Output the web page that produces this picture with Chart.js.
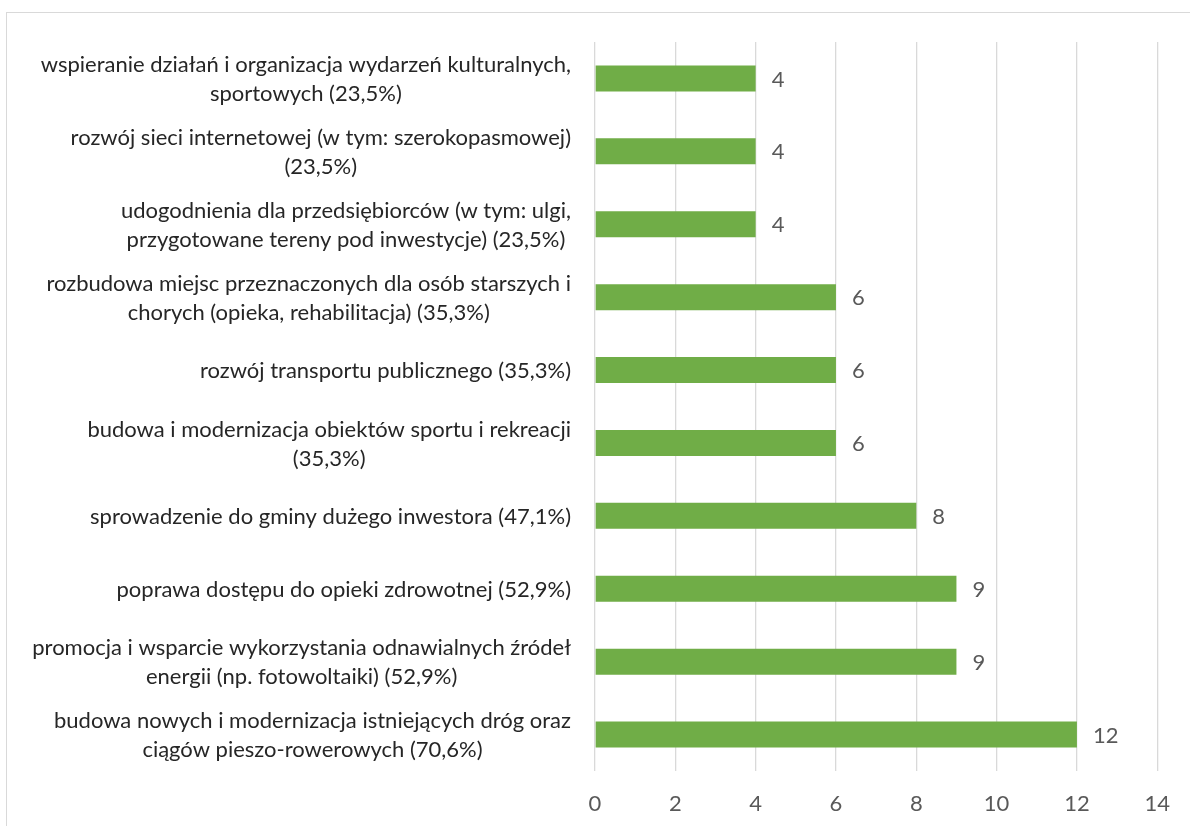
<!DOCTYPE html>
<html>
<head>
<meta charset="utf-8">
<script src="https://cdn.jsdelivr.net/npm/chart.js@4/dist/chart.umd.min.js"></script>
<style>
  html, body { margin: 0; padding: 0; background: #fff; overflow: hidden; }
  #wrap { position: relative; width: 1190px; height: 826px; }
  #frame { position: absolute; left: 6px; top: 12px; width: 1300px; height: 900px; border: 1.5px solid #d9d9d9; box-sizing: border-box; }
  canvas { position: absolute; left: 0; top: 0; }
</style>
</head>
<body>
<div id="wrap">
  <div id="frame"></div>
  <canvas id="c" width="1190" height="826"></canvas>
</div>
<script>
const categories = [
  ["wspieranie działań i organizacja wydarzeń kulturalnych,", "sportowych (23,5%)"],
  ["rozwój sieci internetowej (w tym: szerokopasmowej)", "(23,5%)"],
  ["udogodnienia dla przedsiębiorców (w tym: ulgi,", "przygotowane tereny pod inwestycje) (23,5%)"],
  ["rozbudowa miejsc przeznaczonych dla osób starszych i", "chorych (opieka, rehabilitacja) (35,3%)"],
  ["rozwój transportu publicznego (35,3%)"],
  ["budowa i modernizacja obiektów sportu i rekreacji", "(35,3%)"],
  ["sprowadzenie do gminy dużego inwestora (47,1%)"],
  ["poprawa dostępu do opieki zdrowotnej (52,9%)"],
  ["promocja i wsparcie wykorzystania odnawialnych źródeł", "energii (np. fotowoltaiki) (52,9%)"],
  ["budowa nowych i modernizacja istniejących dróg oraz", "ciągów pieszo-rowerowych (70,6%)"]
];
const values = [4, 4, 4, 6, 6, 6, 8, 9, 9, 12];
const xMin = 0;
const xMax = 14;
const xStep = 2;

const FONT = "Lato";
const FSIZE = 22;

const catLabelPlugin = {
  id: 'catLabels',
  afterDraw(chart) {
    const ctx = chart.ctx;
    const ys = chart.scales.y;
    ctx.save();
    ctx.font = FSIZE + "px " + FONT;
    ctx.fillStyle = "#262626";
    ctx.textAlign = "center";
    ctx.textBaseline = "middle";
    const lineH = 29;
    categories.forEach((lines, i) => {
      const yc = ys.getPixelForTick(i);
      let maxW = 0;
      lines.forEach(l => { maxW = Math.max(maxW, ctx.measureText(l).width); });
      const cx = ys.right - 24 - maxW / 2;
      lines.forEach((l, j) => {
        ctx.fillText(l, cx, yc + (j - (lines.length - 1) / 2) * lineH + 1);
      });
    });
    ctx.restore();
  }
};

const valueLabelPlugin = {
  id: 'valueLabels',
  afterDatasetsDraw(chart) {
    const ctx = chart.ctx;
    const meta = chart.getDatasetMeta(0);
    ctx.save();
    ctx.font = FSIZE + "px " + FONT;
    ctx.fillStyle = "#595959";
    ctx.textAlign = "left";
    ctx.textBaseline = "middle";
    meta.data.forEach((el, i) => {
      ctx.fillText(String(values[i]), el.x + 16, el.y + 1);
    });
    ctx.restore();
  }
};

new Chart(document.getElementById('c'), {
  type: 'bar',
  data: {
    labels: categories.map(l => l.join(' ')),
    datasets: [{
      data: values,
      backgroundColor: '#70ad47',
      borderWidth: 0,
      categoryPercentage: 1,
      barPercentage: 0.357
    }]
  },
  options: {
    indexAxis: 'y',
    responsive: false,
    animation: false,
    layout: { padding: { top: 42, right: 31, left: 0, bottom: 0 } },
    plugins: { legend: { display: false }, tooltip: { enabled: false } },
    scales: {
      x: {
        min: xMin, max: xMax,
        ticks: { stepSize: xStep, color: '#595959', font: { family: FONT, size: FSIZE }, padding: 20 },
        grid: { color: '#d9d9d9', lineWidth: 1.3, drawTicks: false },
        border: { display: false },
        afterFit(s) { s.height = 55; }
      },
      y: {
        ticks: { display: false },
        grid: { display: false },
        border: { display: false },
        afterFit(s) { s.width = 595; }
      }
    }
  },
  plugins: [catLabelPlugin, valueLabelPlugin]
});
</script>
</body>
</html>
